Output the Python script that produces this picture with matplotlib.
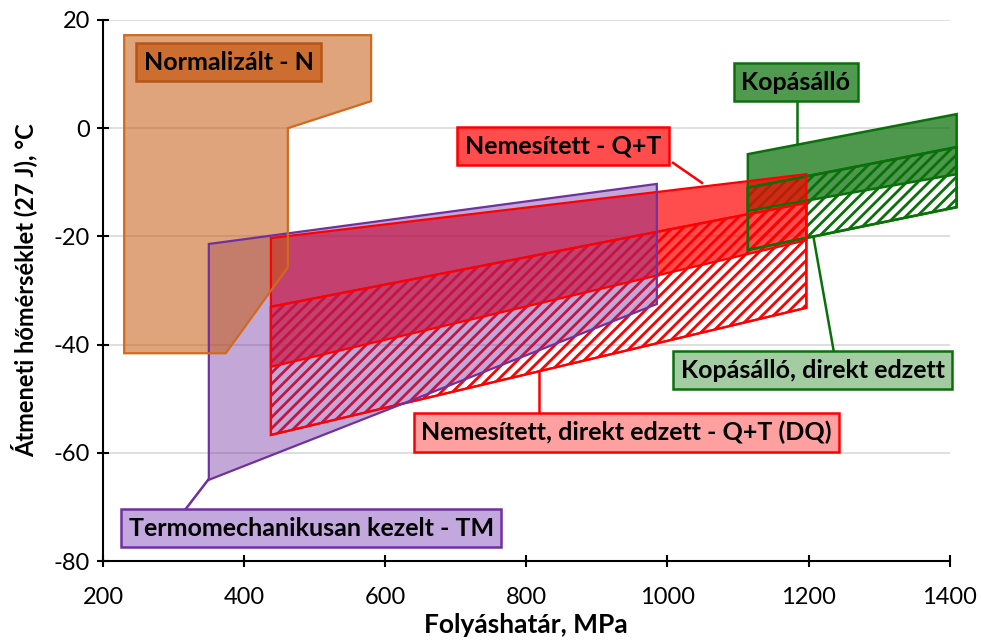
import matplotlib
matplotlib.use("Agg")
import matplotlib.pyplot as plt

plt.rcParams['font.family'] = ['Lato', 'DejaVu Sans']
plt.rcParams['hatch.linewidth'] = 2.0
plt.rcParams['axes.unicode_minus'] = False

# --- data (yield strength MPa, transition temperature °C) ---
N_x = [230, 580, 580, 462, 462, 374, 230]
N_y = [17.2, 17.2, 5.0, 0.0, -25.7, -41.6, -41.6]

TM_x = [350, 985, 985, 350]
TM_y = [-21.4, -10.3, -32.5, -65.0]

QT_x = [438, 1197]
QT_top = [-20.3, -8.5]
QT_bot = [-44.1, -20.7]

DQ_x = [438, 1197]
DQ_top = [-33.0, -13.8]
DQ_bot = [-56.7, -33.2]

W_x = [1114, 1410]
W_top = [-4.8, 2.6]
W_bot = [-15.3, -8.5]

WDQ_x = [1114, 1410]
WDQ_top = [-11.0, -3.5]
WDQ_bot = [-22.5, -14.6]

x_ticks = [200, 400, 600, 800, 1000, 1200, 1400]
y_ticks = [-80, -60, -40, -20, 0, 20]

labels = {
    'N': 'Normalizált - N',
    'W': 'Kopásálló',
    'QT': 'Nemesített - Q+T',
    'WDQ': 'Kopásálló, direkt edzett',
    'DQ': 'Nemesített, direkt edzett - Q+T (DQ)',
    'TM': 'Termomechanikusan kezelt - TM',
}


def band(xs, top, bot):
    return [xs[0], xs[1], xs[1], xs[0]], [top[0], top[1], bot[1], bot[0]]


fig = plt.figure(figsize=(9.81, 6.41), dpi=100)
ax = fig.add_axes([0.105, 0.1248, 0.863, 0.844])

ax.set_xlim(200, 1400)
ax.set_ylim(-80, 20)
ax.set_xticks(x_ticks)
ax.set_yticks(y_ticks)
ax.yaxis.grid(True, color='#d9d9d9', linewidth=1.2, zorder=0)
ax.set_axisbelow(True)
for s in ['top', 'right']:
    ax.spines[s].set_visible(False)
for s in ['left', 'bottom']:
    ax.spines[s].set_linewidth(1.5)
ax.tick_params(direction='inout', length=9, width=1.5, labelsize=17)
ax.tick_params(axis='x', pad=14)
ax.tick_params(axis='y', pad=5)

purple = '#7030A0'
red = '#FF0000'
green = '#0A700A'
orange = '#C55A11'

# Wear resistant solid
xw, yw = band(W_x, W_top, W_bot)
ax.fill(xw, yw, facecolor=green, alpha=0.72, edgecolor='none', zorder=2, clip_on=False)
# Wear resistant DQ hatched
xwd, ywd = band(WDQ_x, WDQ_top, WDQ_bot)
ax.fill(xwd, ywd, facecolor='none', edgecolor=green, hatch='///', linewidth=1.8, zorder=2.2, clip_on=False)

# Q+T solid
xq, yq = band(QT_x, QT_top, QT_bot)
ax.fill(xq, yq, facecolor=red, alpha=0.7, edgecolor='none', zorder=3)
# DQ hatched
xd, yd = band(DQ_x, DQ_top, DQ_bot)
ax.fill(xd, yd, facecolor='none', edgecolor=red, hatch='///', linewidth=1.6, zorder=3.2)

# TM
ax.fill(TM_x, TM_y, facecolor=purple, alpha=0.42, edgecolor='none', zorder=4)

# Normalized
ax.fill(N_x, N_y, facecolor=orange, alpha=0.55, edgecolor='none', zorder=5)

# outlines
ax.fill(xw, yw, facecolor='none', edgecolor=green, linewidth=1.8, zorder=5.5, clip_on=False)
ax.fill(xwd, ywd, facecolor='none', edgecolor=green, linewidth=1.8, zorder=5.5, clip_on=False)
ax.fill(xq, yq, facecolor='none', edgecolor=red, linewidth=1.6, zorder=5.6)
ax.fill(xd, yd, facecolor='none', edgecolor=red, linewidth=1.6, zorder=5.6)
ax.fill(TM_x, TM_y, facecolor='none', edgecolor=purple, linewidth=1.6, zorder=5.7)
ax.fill(N_x, N_y, facecolor='none', edgecolor='#D06A20', linewidth=1.6, zorder=5.8)

# leader lines
ax.plot([1183, 1183], [5.8, -2.9], color=green, lw=1.8, zorder=6, clip_on=False)
ax.plot([1008, 1049], [-6.4, -10.1], color=red, lw=1.8, zorder=6)
ax.plot([1236, 1207], [-41.4, -20.1], color=green, lw=1.8, zorder=6)
ax.plot([818, 818], [-52.8, -44.9], color=red, lw=1.8, zorder=6)
ax.plot([349, 316], [-65, -70.6], color=purple, lw=1.8, zorder=6)

fs = 18
def lab(xc, yc, key, fc, ec):
    ax.text(xc, yc, labels[key], ha='center', va='center', fontsize=fs,
            fontweight='bold', color='black', zorder=7,
            bbox=dict(boxstyle='square,pad=0.3', facecolor=fc, edgecolor=ec, linewidth=1.8))

lab(378, 12.2, 'N', '#CC6E30', '#B85418')
lab(1182, 8.5, 'W', '#4F9A4F', green)
lab(852, -3.3, 'QT', '#FF4D4D', red)
lab(1206, -44.7, 'WDQ', '#A3CCA3', green)
lab(942, -56.2, 'DQ', '#FFA0A0', red)
lab(495, -73.9, 'TM', '#C3A8DE', purple)

ax.set_xlabel('Folyáshatár, MPa', fontsize=19, fontweight='bold', labelpad=4)
ax.set_ylabel('Átmeneti hőmérséklet (27 J), °C', fontsize=17, fontweight='bold', labelpad=12)

fig.savefig('out.png', dpi=100)
